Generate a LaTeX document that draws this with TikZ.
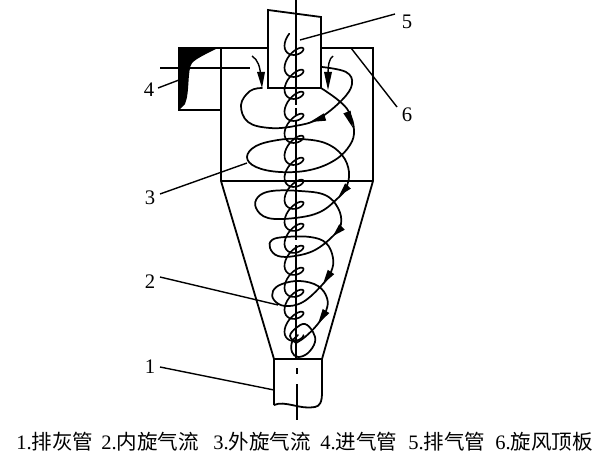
\documentclass[tikz,border=0pt]{standalone}
\usepackage{fontspec}
\usetikzlibrary{calc}
\setmainfont{Liberation Serif}
\newfontfamily\cjkf{Noto Sans CJK SC}
\begin{document}
\begin{tikzpicture}[x=0.75pt,y=-0.75pt,
  wall/.style={line width=1.35pt,line join=miter},
  flow/.style={line width=1.3pt,line cap=round,smooth},
  leader/.style={line width=1.05pt},
  numlabel/.style={font=\fontsize{15.5}{15.5}\selectfont,inner sep=0pt},
  capt/.style={font=\fontsize{15.4}{16}\selectfont,inner sep=0pt,anchor=base west}]
\useasboundingbox (0,0) rectangle (605,463);
\newcommand{\headat}[4]{\fill[black] (#3,#4) -- ($(#1,#2)!2.9pt!90:(#3,#4)$) -- ($(#1,#2)!2.9pt!-90:(#3,#4)$) -- cycle;}
% body
\draw[wall] (221,48) -- (268,48);
\draw[wall] (321,48) -- (373,48) -- (373,181) -- (322,359) -- (322,392);
\draw[wall] (221,48) -- (221,181) -- (274,359) -- (274,405);
\draw[wall] (221,181) -- (373,181);
\draw[wall] (274,359) -- (322,359);
\draw[wall] (274,405) .. controls (285,400) and (300,410) .. (315,407) .. controls (320,406) and (322,402) .. (322,392);
% outlet pipe
\draw[wall] (268,88) -- (268,10) -- (321,17) -- (321,88) -- cycle;
% inlet
\draw[wall] (221,110) -- (179,110) -- (179,48) -- (221,48);
\fill[black] (179,48) -- (218,48) .. controls (206,54) and (197,58) .. (192,63) .. controls (187,70) and (190,92) .. (185,104) -- (179,110) -- cycle;
% axis
\draw[leader] (296,0) -- (296,105);
\draw[leader] (296,108) -- (296,116);
\draw[leader] (296,120) -- (296,240);
\draw[leader] (296,245) -- (296,359);
\draw[leader] (297,368) -- (297,374);
\draw[leader] (297,384) -- (297,420);
% inlet flow line
\coordinate (inA) at (160,68);
\coordinate (inB) at (250,68);
\draw[leader] (inA) -- (inB);
% small curved arrows
\draw[leader] (252,56) .. controls (258,60) and (260,66) .. (261,78);
\fill[black] (257,72) -- (265,72) -- (262,88) -- cycle;
\draw[leader] (333,56) .. controls (329,59) and (328,64) .. (328,78);
\fill[black] (324,72) -- (332,72) -- (328,90) -- cycle;
% inner vortex
\draw[line width=1.25pt,line cap=round] plot[smooth,domain=120:5040,samples=330,variable=\t]
  ({294+9.5*cos(\t)},{31+\t*0.0611-7.5*sin(\t)-0.4*9.5*cos(\t)});
% outer vortex
\draw[flow] plot[smooth,tension=0.65] coordinates {(262,88) (250,91) (241,105) (248,122) (270,128) (295,126) (318,119) (342,100) (352,84) (346,72) (322,67)};
\draw[flow] plot[smooth,tension=0.65] coordinates {(321,88) (338,100) (349,112) (354,130) (350,145) (335,160) (310,170) (280,172) (256,167) (247,157) (256,146) (278,140) (300,139) (325,143) (342,155) (349,172) (346,188) (338,198) (320,212) (295,218) (268,218) (256,208) (258,197) (272,191) (300,191) (325,195) (338,208) (341,224) (333,236) (315,250) (295,256) (278,256) (270,248) (272,240) (285,237) (310,237) (326,243) (333,258) (331,272) (322,285) (303,302) (285,306) (274,300) (273,291) (282,284) (300,281) (318,286) (327,298) (326,311) (317,325) (305,337) (296,343)};
\draw[flow] plot[smooth,tension=0.65] coordinates {(296,343) (290,336) (296,328) (305,324) (313,332) (315,342) (308,353) (298,357) (292,352) (292,342) (298,335)};
% arrow heads
\headat{325}{117}{310}{122}
\headat{347}{112}{353}{128}
\headat{348}{186}{339}{196}
\headat{342}{227}{333}{236}
\headat{331}{272}{323}{284}
\headat{326}{311}{318}{324}
% labels and leaders
\node[numlabel] (n4) at (149,90) {4};
\node[numlabel] (n5) at (407,22) {5};
\node[numlabel] (n6) at (407,115) {6};
\node[numlabel] (n3) at (150,198) {3};
\node[numlabel] (n2) at (150,282) {2};
\node[numlabel] (n1) at (150,367) {1};
\coordinate (t4) at (179,80);
\coordinate (t5) at (300,40);
\coordinate (t6) at (351,48);
\coordinate (t3) at (247,163);
\coordinate (t2) at (278,305);
\coordinate (t1) at (274,390);
\draw[leader] (158,88) -- (t4);
\draw[leader] (395,14) -- (t5);
\draw[leader] (397,107) -- (t6);
\draw[leader] (160,194) -- (t3);
\draw[leader] (160,277) -- (t2);
\draw[leader] (160,367) -- (t1);
% caption
\node[capt] (c1) at (16,449) {1.{\cjkf 排灰管}};
\node[capt] (c2) at (101,449) {2.{\cjkf 内旋气流}};
\node[capt] (c3) at (213,449) {3.{\cjkf 外旋气流}};
\node[capt] (c4) at (320,449) {4.{\cjkf 进气管}};
\node[capt] (c5) at (408,449) {5.{\cjkf 排气管}};
\node[capt] (c6) at (495,449) {6.{\cjkf 旋风顶板}};
\end{tikzpicture}
\end{document}
